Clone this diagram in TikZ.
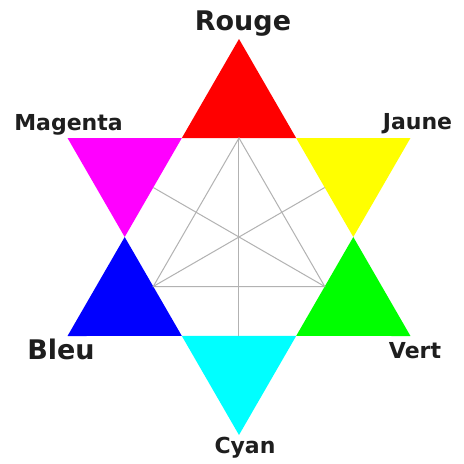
\documentclass[tikz,border=0pt]{standalone}
\usepackage{fontspec}
\setmainfont{DejaVu Sans}
\definecolor{cRed}{RGB}{255,0,0}
\definecolor{cYellow}{RGB}{255,255,0}
\definecolor{cGreen}{RGB}{0,255,0}
\definecolor{cCyan}{RGB}{0,255,255}
\definecolor{cBlue}{RGB}{0,0,255}
\definecolor{cMagenta}{RGB}{255,0,255}
\definecolor{cText}{RGB}{30,30,30}
\begin{document}
\begin{tikzpicture}[x=1pt,y=1pt,
  lbl/.style={anchor=base,inner sep=0pt,font=\bfseries\fontsize{22}{26}\selectfont,text=cText},
  biglbl/.style={lbl,font=\bfseries\fontsize{27}{32}\selectfont},
  guide/.style={draw=black!30,line width=1pt}]
\useasboundingbox (-239,-227) rectangle (225,237);
\fill[white] (-239,-227) rectangle (225,237);
% geometry
\def\R{198}
\def\h{114.3}
\def\a{99}
\coordinate (C) at (0,0);
\foreach \ang/\nm in {90/pR,30/pJ,-30/pV,-90/pC,-150/pB,150/pM}{\coordinate (\nm) at (\ang:\R);}
\foreach \ang/\nm in {0/h0,60/h60,120/h120,180/h180,240/h240,300/h300}{\coordinate (\nm) at (\ang:\h);}
\foreach \ang/\nm in {90/m90,30/m30,-30/m330,-90/m270,-150/m210,150/m150}{\coordinate (\nm) at (\ang:\a);}
% colored points
\fill[cRed] (pR) -- (h60) -- (h120) -- cycle;
\fill[cYellow] (pJ) -- (h0) -- (h60) -- cycle;
\fill[cGreen] (pV) -- (h300) -- (h0) -- cycle;
\fill[cCyan] (pC) -- (h240) -- (h300) -- cycle;
\fill[cBlue] (pB) -- (h180) -- (h240) -- cycle;
\fill[cMagenta] (pM) -- (h120) -- (h180) -- cycle;
% inner guides
\draw[guide] (m90) -- (m210) -- (m330) -- cycle;
\draw[guide] (m90) -- (m270);
\draw[guide] (m210) -- (m30);
\draw[guide] (m330) -- (m150);
% labels
\node[biglbl] (lR) at (4,207) {Rouge};
\node[lbl] (lM) at (-170.5,107) {Magenta};
\node[lbl] (lJ) at (178.5,108) {Jaune};
\node[biglbl] (lB) at (-178,-122) {Bleu};
\node[lbl] (lV) at (176,-121) {Vert};
\node[lbl] (lC) at (6,-216) {Cyan};
\end{tikzpicture}
\end{document}
